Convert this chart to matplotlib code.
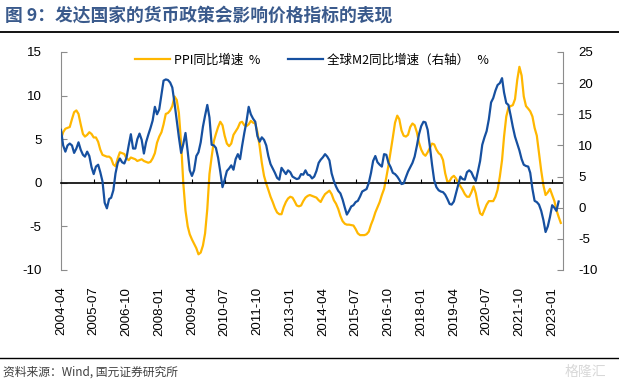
import pandas as pd
import matplotlib
matplotlib.use('Agg')
import matplotlib.pyplot as plt
import matplotlib.dates as mdates
from matplotlib.lines import Line2D

plt.rcParams['font.family'] = ['Noto Sans CJK SC', 'DejaVu Sans']
plt.rcParams['axes.unicode_minus'] = False

# monthly data, first value = 2004-04
start_month = '2004-04'
ppi = [
    5.0, 5.8, 6.2, 6.3, 6.4, 7.3, 8.1, 8.3, 7.9,                        # 2004
    6.7, 5.6, 5.3, 5.5, 5.8, 5.6, 5.2, 5.2, 4.7, 3.8, 3.2, 3.1,          # 2005
    3.0, 3.0, 2.8, 2.1, 1.9, 2.8, 3.5, 3.4, 3.3, 2.8, 2.6, 2.9,          # 2006
    2.8, 2.7, 2.5, 2.6, 2.7, 2.5, 2.4, 2.3, 2.4, 2.8, 3.4, 4.6,          # 2007
    5.3, 5.8, 6.7, 7.9, 8.0, 8.3, 8.8, 9.9, 9.5, 8.0, 4.5, 0.0,          # 2008
    -3.2, -5.0, -5.9, -6.5, -7.0, -7.5, -8.2, -8.0, -7.2, -5.8, -3.0, 1.0,  # 2009
    3.0, 4.8, 5.6, 6.4, 7.0, 6.6, 5.4, 4.5, 4.2, 4.5, 5.5, 5.9,          # 2010
    6.3, 6.9, 7.0, 6.6, 6.5, 6.7, 7.1, 6.9, 6.8, 5.8, 4.2, 2.3,          # 2011
    0.8, -0.1, -0.8, -1.6, -2.2, -2.9, -3.4, -3.6, -3.6, -2.8, -2.2, -1.8,  # 2012
    -1.6, -1.7, -2.1, -2.6, -2.7, -2.6, -2.1, -1.7, -1.5, -1.4, -1.5, -1.6,  # 2013
    -1.7, -2.0, -2.2, -1.7, -1.3, -1.1, -0.9, -1.3, -2.0, -2.4, -3.0, -3.8,  # 2014
    -4.4, -4.7, -4.8, -4.8, -4.85, -4.9, -5.3, -5.8, -6.0, -6.0, -6.0, -5.9,  # 2015
    -5.6, -4.8, -4.2, -3.4, -2.8, -2.2, -1.4, -0.7, 0.6, 2.0, 3.6, 5.2,  # 2016
    6.9, 7.7, 7.3, 6.0, 5.4, 5.3, 5.5, 6.4, 6.8, 6.6, 5.8, 4.6,          # 2017
    3.8, 3.3, 3.1, 3.5, 4.0, 4.5, 4.4, 3.8, 3.4, 3.2, 2.6, 1.1,          # 2018
    0.1, 0.2, 0.6, 0.8, 0.5, 0.0, -0.4, -0.8, -1.3, -1.6, -1.6, -1.1,    # 2019
    -0.4, -1.2, -2.5, -3.5, -3.7, -3.1, -2.5, -2.1, -2.1, -2.1, -1.6, -0.8,  # 2020
    0.7, 2.6, 5.3, 7.6, 8.6, 8.8, 8.9, 9.6, 11.8, 13.3, 12.3, 9.9,       # 2021
    8.8, 8.5, 8.2, 7.6, 6.3, 5.4, 3.4, 1.4, -0.3, -1.4, -1.1, -0.7,      # 2022
    -1.4, -2.1, -3.1, -3.9, -4.6,                                        # 2023
]
m2 = [
    12.5, 10.0, 9.0, 10.0, 10.3, 10.0, 8.8, 9.5, 10.5,                   # 2004
    9.3, 8.5, 8.2, 9.0, 8.3, 6.5, 5.4, 6.6, 6.9, 5.7, 4.2, 0.8,          # 2005
    -0.1, 1.4, 1.6, 2.8, 5.5, 7.2, 7.9, 7.3, 7.1, 8.0, 10.0, 11.8,       # 2006
    9.5, 9.5, 11.0, 11.9, 10.9, 8.7, 10.5, 11.7, 12.8, 14.0, 16.2, 15.0,  # 2007
    15.8, 18.2, 20.4, 20.6, 20.5, 20.1, 19.3, 16.8, 14.0, 11.3, 8.8, 10.2,  # 2008
    12.0, 9.0, 6.0, 5.1, 6.0, 8.3, 8.9, 10.5, 13.0, 14.8, 16.5, 14.5,    # 2009
    10.1, 10.0, 9.6, 8.0, 5.8, 3.3, 4.5, 5.9, 6.3, 6.8, 6.1, 7.8,        # 2010
    8.6, 7.8, 9.9, 12.0, 13.8, 16.2, 15.0, 14.3, 13.8, 11.5, 10.6, 11.3,  # 2011
    10.9, 10.0, 8.3, 7.0, 6.3, 5.6, 4.8, 4.5, 6.4, 5.9, 5.4, 6.0,        # 2012
    5.7, 5.0, 4.8, 4.6, 4.7, 5.4, 5.3, 6.0, 5.3, 5.2, 4.7, 5.0,          # 2013
    5.9, 7.2, 7.7, 8.1, 8.6, 8.2, 7.6, 5.5, 4.3, 3.4, 2.7, 2.3,          # 2014
    1.3, 0.0, -1.1, -0.5, 0.2, 0.4, 0.9, 1.1, 1.8, 2.6, 2.8, 3.0,        # 2015
    4.0, 5.6, 7.5, 8.3, 7.3, 6.9, 6.6, 8.6, 8.5, 7.2, 6.5, 5.6,          # 2016
    5.4, 5.0, 4.5, 3.8, 3.9, 4.9, 5.8, 6.5, 7.2, 8.2, 9.9, 11.8,         # 2017
    13.1, 13.8, 13.7, 12.5, 9.9, 6.9, 4.4, 3.3, 2.8, 2.6, 2.5, 2.1,      # 2018
    1.4, 0.6, 0.5, 1.0, 2.3, 3.7, 5.0, 4.6, 4.5, 5.7, 6.0, 5.7,          # 2019
    4.9, 4.3, 5.8, 7.5, 10.1, 11.3, 12.3, 14.2, 16.9, 17.6, 18.8, 19.7,  # 2020
    20.0, 20.8, 18.5, 16.8, 16.5, 14.8, 13.0, 11.4, 10.3, 9.2, 7.8, 6.9,  # 2021
    6.7, 6.6, 5.6, 3.0, 1.1, 0.9, 0.5, -0.5, -2.0, -3.9, -3.0, -1.5,     # 2022
    0.4, 0.0, -0.5, 1.0,                                                 # 2023
]
tick_labels = ['2004-04', '2005-07', '2006-10', '2008-01', '2009-04', '2010-07',
               '2011-10', '2013-01', '2014-04', '2015-07', '2016-10', '2018-01',
               '2019-04', '2020-07', '2021-10', '2023-01']
series_names = ['PPI同比增速  %', '全球M2同比增速（右轴）   %']
title = '图 9：发达国家的货币政策会影响价格指标的表现'
source = '资料来源：Wind, 国元证券研究所'

ppi_dates = pd.date_range(start_month, periods=len(ppi), freq='MS')
m2_dates = pd.date_range(start_month, periods=len(m2), freq='MS')
tick_pos = mdates.date2num(pd.to_datetime(tick_labels))

W, H = 619, 384
fig = plt.figure(figsize=(W / 100, H / 100), dpi=100)
ax = fig.add_axes([61 / W, 1 - 270 / H, 502 / W, 218 / H])
ax2 = ax.twinx()

yellow = '#FFB700'
blue = '#1650A0'
grey = '#8c8c8c'
num_font = 'Liberation Sans'

ln1, = ax.plot(ppi_dates, ppi, color=yellow, lw=1.6)
ln2, = ax2.plot(m2_dates, m2, color=blue, lw=1.6)

ax.set_xlim(mdates.date2num(ppi_dates[0]), mdates.date2num(pd.Timestamp('2023-06-01')))
ax.set_ylim(-10, 15)
ax.set_yticks(range(-10, 16, 5))
ax2.set_ylim(-10, 25)
ax2.set_yticks(range(-10, 26, 5))

# zero line carries the small x ticks
ax.spines['bottom'].set_position(('data', 0))
ax.spines['bottom'].set_color('black')
ax.spines['bottom'].set_linewidth(1.2)
ax.set_xticks(tick_pos)
ax.tick_params(axis='x', direction='in', length=3, color='black', labelbottom=False)

for sp in ['top', 'right']:
    ax.spines[sp].set_visible(False)
for sp in ['top', 'bottom', 'left']:
    ax2.spines[sp].set_visible(False)
ax.spines['left'].set_color(grey)
ax2.spines['right'].set_color(grey)

ax.tick_params(axis='y', direction='in', length=4, color=grey, pad=14, labelsize=9.5)
ax2.tick_params(axis='y', direction='in', length=4, color=grey, pad=11, labelsize=9.5)
for lab in ax.get_yticklabels() + ax2.get_yticklabels():
    lab.set_fontfamily(num_font)

# date labels sit at the bottom of the plot area
sec = ax.secondary_xaxis('bottom')
sec.set_xticks(tick_pos, labels=tick_labels)
sec.tick_params(length=0, pad=12, labelsize=9.5, labelrotation=90)
sec.spines['bottom'].set_visible(False)
for lab in sec.get_xticklabels():
    lab.set_fontfamily(num_font)

ax2.legend([ln1, ln2], series_names, loc='upper center', bbox_to_anchor=(0.5, 1.045),
           ncol=2, frameon=False, fontsize=9, handlelength=2.8,
           columnspacing=2.2, handletextpad=0.3)

# title, rules and source
fig.text(5 / W, 1 - 21 / H, title, fontsize=12.8, fontweight='bold', color='#3A5A8C', va='baseline')
fig.add_artist(Line2D([0, 1], [1 - 32 / H] * 2, color='black', lw=1.3))
fig.add_artist(Line2D([0, 1], [1 - 358 / H] * 2, color='black', lw=1.0))
fig.text(3 / W, 1 - 372 / H, source, fontsize=8.5, color='#404040', va='center')
fig.text(585 / W, 1 - 372 / H, '格隆汇', fontsize=10, color='#d8d8d8', va='center', ha='center')

fig.savefig('out.png', dpi=100)
